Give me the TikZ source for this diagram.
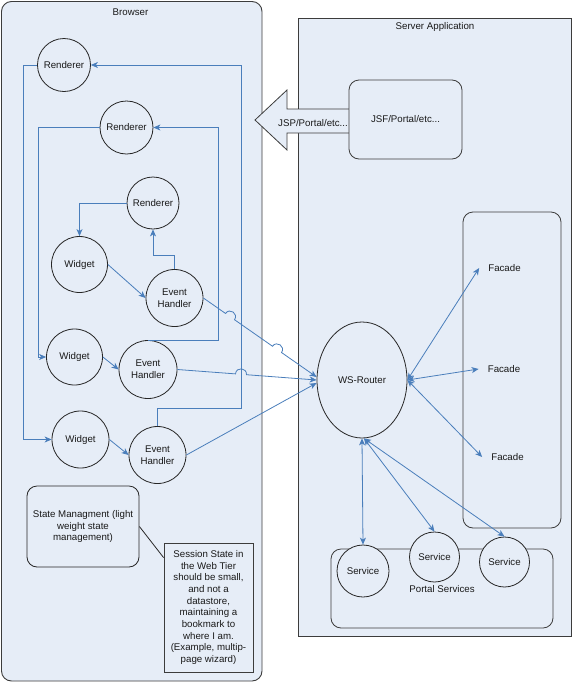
\documentclass[tikz,border=0pt]{standalone}
\usepackage{fontspec}
\setmainfont{Liberation Sans}
\usetikzlibrary{arrows.meta,calc,shapes.geometric}
\definecolor{bfill}{HTML}{E6EDF7}
\definecolor{lblue}{HTML}{4A7EBB}
\definecolor{bord}{HTML}{3C3C3C}
\newcommand{\mkhop}[3]{%
  \coordinate (#1l) at ($(#1)!5.5pt!(#2)$);
  \coordinate (#1r) at ($(#1)!5.5pt!(#3)$);
  \coordinate (#1p) at ($(#1l)!0.667!90:(#1r)$);
  \coordinate (#1q) at ($(#1r)!0.667!-90:(#1l)$);}
\begin{document}
\begin{tikzpicture}[x=1pt,y=-1pt,
  every node/.style={font=\fontsize{9.7}{11.7}\selectfont, text=black!90},
  cont/.style={draw=bord, fill=bfill, line width=0.9pt},
  circ/.style={circle, draw=black!85, fill=bfill, line width=0.8pt, inner sep=0pt, align=center},
  conn/.style={draw=lblue, line width=0.8pt},
  tip/.style={-{Stealth[length=7pt,width=6pt,inset=2pt]}},
  bitip/.style={{Stealth[length=7pt,width=6pt,inset=2pt]}-{Stealth[length=7pt,width=6pt,inset=2pt]}},
  flab/.style={inner sep=9pt}
]
\useasboundingbox (0,0) rectangle (572,683);
% containers
\draw[cont, rounded corners=10pt] (1.5,1.5) rectangle (262,681);
\node (browserT) at (130.5,12.5) {Browser};
\draw[cont] (298,18) rectangle (571,636);
\node (serverT) at (435,27) {Server Application};
% big arrow
\draw[cont, line width=0.8pt] (349,109) -- (287,109) -- (287,90) -- (255,120) -- (287,150) -- (287,133) -- (349,133);
\node (JSP) at (313,123) {JSP/Portal/etc...};
\node[cont, line width=0.8pt, rounded corners=10pt, minimum width=113pt, minimum height=79pt] (JSF) at (405.5,119.5) {JSF/Portal/etc...};
% facade container and portal services
\draw[cont, line width=0.8pt, rounded corners=10pt] (463,212) rectangle (561,528);
\draw[cont, line width=0.8pt, rounded corners=10pt] (331,549) rectangle (553,628);
\node (PS) at (442,589) {Portal Services};
% server nodes
\node[ellipse, draw=black!85, fill=bfill, line width=0.8pt, minimum width=90pt, minimum height=116pt, inner sep=0pt] (WR) at (362,380) {WS-Router};
\node[flab] (F1) at (504.5,268) {Facade};
\node[flab] (F2) at (504,369) {Facade};
\node[flab] (F3) at (507.5,457) {Facade};
\node[circ, minimum size=52pt] (S1) at (363,571) {Service};
\node[circ, minimum size=50pt] (S2) at (434.5,557) {Service};
\node[circ, minimum size=50pt] (S3) at (504.5,562) {Service};
% browser nodes
\node[circ, minimum size=53pt] (R1) at (64,65) {Renderer};
\node[circ, minimum size=53pt] (R2) at (126.5,127.5) {Renderer};
\node[circ, minimum size=52pt] (R3) at (153,203) {Renderer};
\node[circ, minimum size=56pt] (W1) at (79.5,264.5) {Widget};
\node[circ, minimum size=57pt] (EH1) at (174.5,298) {Event\\Handler};
\node[circ, minimum size=56pt] (W2) at (74.5,357) {Widget};
\node[circ, minimum size=58pt] (EH2) at (148,369.5) {Event\\Handler};
\node[circ, minimum size=57pt] (W3) at (80.5,439.5) {Widget};
\node[circ, minimum size=57pt] (EH3) at (157.5,455) {Event\\Handler};
\node[draw=black!85, fill=bfill, line width=0.8pt, rounded corners=10pt, minimum width=112pt, minimum height=81pt, align=center, inner sep=2pt] (SM) at (83,526.5) {State Managment (light\\weight state\\management)};
\node[draw=bord, fill=bfill, line width=0.8pt, minimum width=89pt, minimum height=129pt, align=center, inner sep=2pt] (SS) at (208.5,607.5) {Session State in\\the Web Tier\\should be small,\\and not a\\datastore,\\maintaining a\\bookmark to\\where I am.\\(Example, multip-\\page wizard)};
\draw[black!85, line width=0.8pt] (SM.east) -- ([yshift=-15pt]SS.north west);
% widget -> event handler
\draw[conn,tip] (W1.east) -- (EH1.west);
\draw[conn,tip] (W2.east) -- (EH2.west);
\draw[conn,tip] (W3.east) -- (EH3.west);
% renderer -> widget
\draw[conn,tip] (R3.west) -| (W1.north);
\draw[conn,tip] (R2.west) -- ++(-61,0) |- (W2.west);
\draw[conn,tip] (R1.west) -- ++(-13.5,0) |- (W3.west);
% event handler -> renderer
\draw[conn,tip] (EH1.north) -- ++(0,-14) -| (R3.south);
\draw[conn,tip] (EH2.north) -- ++(70,0) |- (R2.east);
\draw[conn,tip] (EH3.north) -- ++(0,-18) -- ++(83.5,0) |- (R1.east);
% event handler -> router (with hops)
\coordinate (a1) at (EH1.east);
\coordinate (b1) at ([yshift=3pt]WR.west);
\coordinate (a2) at (EH2.east);
\coordinate (b2) at (WR.west);
\coordinate (c1) at (230,0); \coordinate (d1) at (230,700);
\coordinate (c2) at (277,0); \coordinate (d2) at (277,700);
\coordinate (c3) at (241,0); \coordinate (d3) at (241,700);
\coordinate (h1) at (intersection of a1--b1 and c1--d1);
\coordinate (h2) at (intersection of a1--b1 and c2--d2);
\coordinate (h3) at (intersection of a2--b2 and c3--d3);
\mkhop{h1}{a1}{b1}
\mkhop{h2}{a1}{b1}
\mkhop{h3}{a2}{b2}
\draw[conn,tip] (a1) -- (h1l) .. controls (h1p) and (h1q) .. (h1r) -- (h2l) .. controls (h2p) and (h2q) .. (h2r) -- (b1);
\draw[conn,tip] (a2) -- (h3l) .. controls (h3p) and (h3q) .. (h3r) -- (b2);
\draw[conn,tip] (EH3.east) -- ([yshift=-3pt]WR.west);
% router <-> facades / services
\draw[conn,bitip] (WR.east) -- (F1.west);
\draw[conn,bitip] (WR.east) -- (F2.west);
\draw[conn,bitip] (WR.east) -- (F3.west);
\draw[conn,bitip] (WR.south) -- (S1.north);
\draw[conn,bitip] ([xshift=2pt]WR.south) -- (S2.north);
\draw[conn,bitip] ([xshift=2pt]WR.south) -- (S3.north);
\end{tikzpicture}
\end{document}
